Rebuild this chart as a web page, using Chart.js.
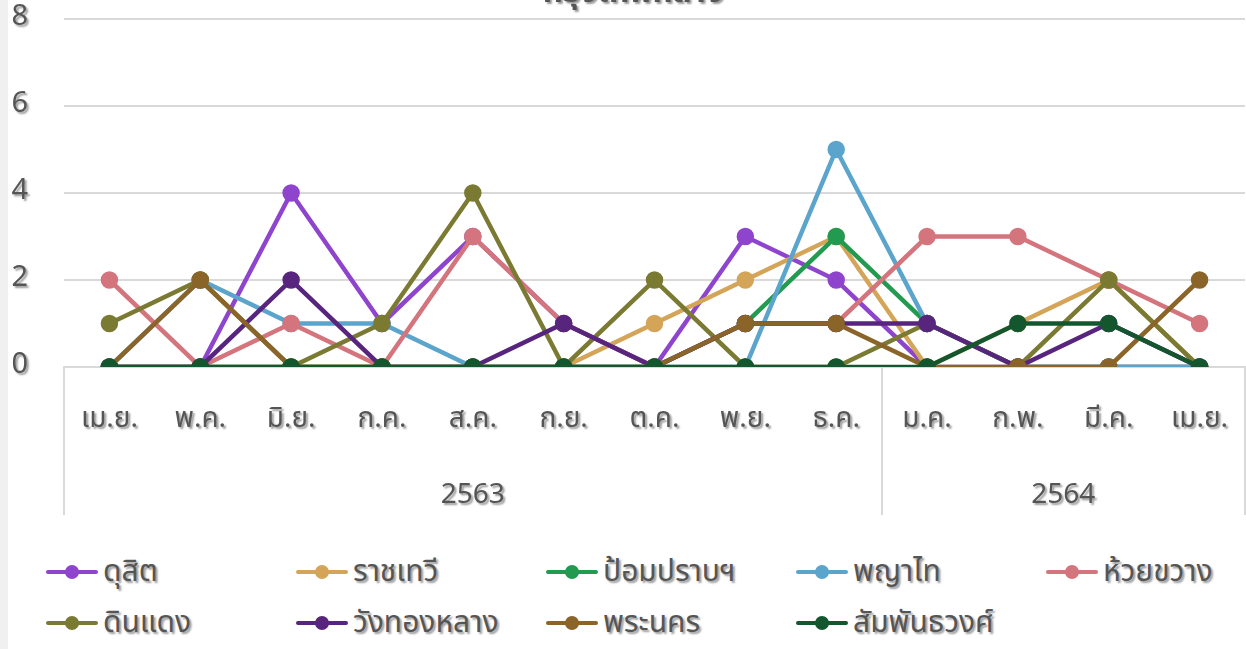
<!DOCTYPE html>
<html lang="th">
<head>
<meta charset="utf-8">
<title>กรุงเทพกลาง</title>
<script src="https://cdn.jsdelivr.net/npm/chart.js@4.4.1/dist/chart.umd.min.js"></script>
<style>
  html, body { margin: 0; padding: 0; background: #ffffff; overflow: hidden; }
  body { width: 1246px; height: 649px; position: relative; }
  #strip { position: absolute; left: 0; top: 0; width: 8px; height: 649px; background: #f0f0f0; }
  #wrap { position: absolute; left: 8px; top: -40px; width: 1248px; height: 570px; }
  #legend {
    position: absolute; left: 44px; top: 546px;
    display: grid; grid-template-columns: repeat(5, 250px); grid-auto-rows: 51px;
    font-family: 'Noto Sans Thai', 'Leelawadee UI', Tahoma, 'DejaVu Sans', sans-serif;
    font-size: 30px; color: #555555;
  }
  .item { display: flex; align-items: center; white-space: nowrap; }
  .mark { position: relative; width: 56px; height: 14px; margin-right: 3px; flex: none; }
  .mark .ln { position: absolute; left: 2px; right: 2px; top: 5px; height: 4px; border-radius: 2px; }
  .mark .dot { position: absolute; left: 21px; top: 0px; width: 14px; height: 14px; border-radius: 50%; }
  .txt { text-shadow: 2px 2px 2px rgba(0,0,0,0.4); }
</style>
</head>
<body>
<div id="strip"></div>
<div id="wrap"><canvas id="chart"></canvas></div>
<div id="legend"></div>
<script>
// Month labels (Thai abbreviations), April 2563 to April 2564
const months = ['เม.ย.', 'พ.ค.', 'มิ.ย.', 'ก.ค.', 'ส.ค.', 'ก.ย.', 'ต.ค.', 'พ.ย.', 'ธ.ค.', 'ม.ค.', 'ก.พ.', 'มี.ค.', 'เม.ย.'];
// Year groups and how many months each covers
const years = ['2563', '2564'];
const monthsPerYear = [9, 4];

const chartTitle = 'กรุงเทพกลาง';
const districts = ['ดุสิต', 'ราชเทวี', 'ป้อมปราบฯ', 'พญาไท', 'ห้วยขวาง', 'ดินแดง', 'วังทองหลาง', 'พระนคร', 'สัมพันธวงศ์'];
const colors = ['#8E44CC', '#D4A558', '#229A50', '#5BA4CC', '#D4747C', '#7A7A32', '#58257E', '#8A6428', '#14572F'];

// Monthly counts per district
const dusit          = [0, 0, 4, 1, 3, 1, 0, 3, 2, 0, 0, 0, 0];
const ratchathewi    = [0, 0, 0, 0, 0, 0, 1, 2, 3, 0, 1, 2, 0];
const pomPrap        = [0, 0, 0, 0, 0, 0, 0, 1, 3, 1, 0, 0, 0];
const phayaThai      = [0, 2, 1, 1, 0, 0, 0, 0, 5, 1, 0, 0, 0];
const huaiKhwang     = [2, 0, 1, 0, 3, 1, 0, 1, 1, 3, 3, 2, 1];
const dinDaeng       = [1, 2, 0, 1, 4, 0, 2, 0, 0, 1, 0, 2, 0];
const wangThonglang  = [0, 0, 2, 0, 0, 1, 0, 1, 1, 1, 0, 1, 0];
const phraNakhon     = [0, 2, 0, 0, 0, 0, 0, 1, 1, 0, 0, 0, 2];
const samphanthawong = [0, 0, 0, 0, 0, 0, 0, 0, 0, 0, 1, 1, 0];

const seriesValues = [dusit, ratchathewi, pomPrap, phayaThai, huaiKhwang, dinDaeng, wangThonglang, phraNakhon, samphanthawong];

const FONT = "'Noto Sans Thai', 'Leelawadee UI', Tahoma, 'DejaVu Sans', sans-serif";
const TEXT = '#555555';
const GRID = '#d9d9d9';

// Year-group label positions (middle of each group) and divider indices
const yearCenters = [];
const groupStarts = [];
let start = 0;
monthsPerYear.forEach(n => {
  groupStarts.push(start);
  yearCenters.push(start + (n - 1) / 2);
  start += n;
});

const n = districts.length;
const datasets = districts.map((name, i) => ({
  label: name,
  data: seriesValues[i],
  borderColor: colors[i],
  backgroundColor: colors[i],
  pointBackgroundColor: colors[i],
  pointBorderColor: colors[i],
  borderWidth: 4.5,
  pointRadius: 6.5,
  pointHoverRadius: 6.5,
  tension: 0,
  // later districts are drawn above earlier ones
  order: n - i
}));

// Soft drop shadow under canvas text (axis labels and title)
const textShadow = {
  id: 'textShadow',
  beforeDraw(chart) {
    const ctx = chart.ctx;
    const wrap = (obj, key) => {
      if (!obj || obj['__shadowed_' + key]) return;
      const orig = obj[key];
      obj[key] = function (...args) {
        ctx.save();
        ctx.shadowColor = 'rgba(0,0,0,0.4)';
        ctx.shadowOffsetX = 2;
        ctx.shadowOffsetY = 2;
        ctx.shadowBlur = 2;
        const r = orig.apply(this, args);
        ctx.restore();
        return r;
      };
      obj['__shadowed_' + key] = true;
    };
    Object.values(chart.scales).forEach(s => wrap(s, 'drawLabels'));
    wrap(chart.titleBlock, 'draw');
  }
};

const chart = new Chart(document.getElementById('chart'), {
  type: 'line',
  data: { labels: months, datasets },
  plugins: [textShadow],
  options: {
    responsive: true,
    maintainAspectRatio: false,
    animation: false,
    layout: { padding: { left: 4, right: 1, top: 0, bottom: 15 } },
    plugins: {
      legend: { display: false },
      tooltip: { enabled: false },
      title: {
        display: true,
        text: chartTitle,
        color: TEXT,
        font: { family: FONT, size: 32, weight: 'bold' },
        padding: { top: 16, bottom: 4.6 }
      }
    },
    scales: {
      y: {
        min: 0, max: 8,
        ticks: { stepSize: 2, color: TEXT, font: { family: FONT, size: 29 }, padding: 36 },
        grid: { color: GRID, lineWidth: 2, drawTicks: false },
        border: { display: false },
        afterFit: s => { s.width = 52; }
      },
      x: {
        type: 'category',
        position: 'bottom',
        offset: true,
        ticks: { color: TEXT, font: { family: FONT, size: 28 }, padding: -110.5, maxRotation: 0, autoSkip: false },
        grid: {
          offset: true,
          drawOnChartArea: false,
          tickLength: 148,
          lineWidth: 2,
          // dividers only at the edges of each year group
          color: ctx => {
            if (ctx.index === undefined) return GRID;
            return groupStarts.includes(ctx.index) ? GRID : 'rgba(0,0,0,0)';
          }
        },
        border: { display: true, color: GRID, width: 2 },
        afterFit: s => { s.height = 73; }
      },
      years: {
        type: 'linear',
        position: 'bottom',
        min: -0.5,
        max: months.length - 0.5,
        afterBuildTicks: scale => {
          scale.ticks = yearCenters.map(v => ({ value: v }));
        },
        ticks: {
          color: TEXT, font: { family: FONT, size: 28 }, padding: 40.5, maxRotation: 0, autoSkip: false,
          callback: v => {
            const k = yearCenters.indexOf(v);
            return k >= 0 ? years[k] : '';
          }
        },
        grid: { display: false, drawTicks: false },
        border: { display: false },
        afterFit: s => { s.height = 75; }
      }
    }
  }
});

// Legend built from the chart's own datasets
const legendEl = document.getElementById('legend');
chart.data.datasets.forEach(ds => {
  const item = document.createElement('div');
  item.className = 'item';
  const mark = document.createElement('span');
  mark.className = 'mark';
  const ln = document.createElement('span');
  ln.className = 'ln';
  ln.style.background = ds.borderColor;
  const dot = document.createElement('span');
  dot.className = 'dot';
  dot.style.background = ds.borderColor;
  mark.appendChild(ln);
  mark.appendChild(dot);
  const txt = document.createElement('span');
  txt.className = 'txt';
  txt.textContent = ds.label;
  item.appendChild(mark);
  item.appendChild(txt);
  legendEl.appendChild(item);
});
</script>
</body>
</html>
